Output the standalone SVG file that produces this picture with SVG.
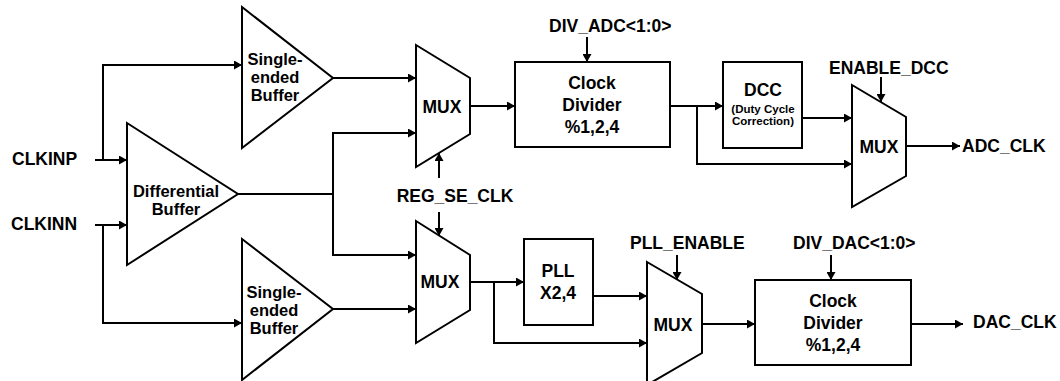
<svg xmlns="http://www.w3.org/2000/svg" width="1060" height="381" viewBox="0 0 1060 381">
<style>
.s{fill:#fff;stroke:#000;stroke-width:2;stroke-linejoin:miter}
.c{fill:none;stroke:#000;stroke-width:2}
.t{font-family:"Liberation Sans",Arial,sans-serif;font-weight:bold;fill:#000}
.l{font-size:17.5px}
.b{font-size:16.5px}
.m{text-anchor:middle}
</style>
<defs>
<marker id="ah" markerUnits="userSpaceOnUse" markerWidth="9" markerHeight="9" refX="8" refY="4.5" orient="auto">
<path d="M0,0 L8,4.5 L0,9 z" fill="#000"/>
</marker>
</defs>
<rect width="1060" height="381" fill="#fff"/>
<g id="connectors" class="c" marker-end="url(#ah)">
<path d="M95,160 H127"/>
<path d="M103,160 V65 H242"/>
<path d="M95,225 H127"/>
<path d="M103,225 V323 H242"/>
<path d="M333,78 H416"/>
<path d="M238,194 H333" marker-end="none"/>
<path d="M333,194 V133 H416"/>
<path d="M333,194 V255 H416"/>
<path d="M333,309 H416"/>
<path d="M439,178 V153"/>
<path d="M439,212 V236"/>
<path d="M470,106 H515"/>
<path d="M587,37 V62"/>
<path d="M670,106 H723"/>
<path d="M697,106 V164 H852"/>
<path d="M802,118 H852"/>
<path d="M881,77 V102"/>
<path d="M906,146 H960"/>
<path d="M470,282 H524"/>
<path d="M494,282 V343 H647"/>
<path d="M593,296 H647"/>
<path d="M677,255 V280"/>
<path d="M702,324 H755"/>
<path d="M831,255 V280"/>
<path d="M911,324 H963"/>
</g>
<g id="clkinp"><text class="t l" x="12" y="165">CLKINP</text></g>
<g id="clkinn"><text class="t l" x="11" y="230">CLKINN</text></g>
<g id="se_buf_top">
<polygon class="s" points="242,7 333,78 242,148"/>
<text class="t b m" x="275" y="65">Single-</text>
<text class="t b m" x="275" y="83">ended</text>
<text class="t b m" x="275" y="101">Buffer</text>
</g>
<g id="diff_buf">
<polygon class="s" points="127,123 238,194 127,265"/>
<text class="t b m" x="176" y="197">Differential</text>
<text class="t b m" x="176" y="215">Buffer</text>
</g>
<g id="se_buf_bot">
<polygon class="s" points="242,239 333,309 242,380"/>
<text class="t b m" x="274" y="298">Single-</text>
<text class="t b m" x="274" y="316">ended</text>
<text class="t b m" x="274" y="334">Buffer</text>
</g>
<g id="mux_top">
<polygon class="s" points="416,45 470,78 470,134 416,167"/>
<text class="t l m" x="442" y="113">MUX</text>
</g>
<g id="reg_se_clk"><text class="t l m" x="455" y="202">REG_SE_CLK</text></g>
<g id="mux_bot">
<polygon class="s" points="416,221 470,255 470,310 416,343"/>
<text class="t l m" x="440" y="288">MUX</text>
</g>
<g id="clkdiv_adc">
<rect class="s" x="515" y="62" width="155" height="85"/>
<text class="t l m" x="592" y="89">Clock</text>
<text class="t l m" x="592" y="111">Divider</text>
<text class="t l m" x="592" y="133">%1,2,4</text>
</g>
<g id="div_adc"><text class="t l" x="549" y="32">DIV_ADC&lt;1:0&gt;</text></g>
<g id="dcc">
<rect class="s" x="723" y="62" width="79" height="86"/>
<text class="t m" style="font-size:17.5px" x="763" y="96">DCC</text>
<text class="t m" style="font-size:11.5px" x="763" y="113">(Duty Cycle</text>
<text class="t m" style="font-size:11.5px" x="763" y="125">Correction)</text>
</g>
<g id="enable_dcc"><text class="t l" x="829" y="74">ENABLE_DCC</text></g>
<g id="mux_adc">
<polygon class="s" points="852,85 906,117 906,176 852,207"/>
<text class="t l m" x="879" y="153">MUX</text>
</g>
<g id="adc_clk"><text class="t l" x="962" y="152">ADC_CLK</text></g>
<g id="pll">
<rect class="s" x="524" y="239" width="69" height="86"/>
<text class="t l m" x="558" y="277">PLL</text>
<text class="t l m" x="558" y="299">X2,4</text>
</g>
<g id="pll_enable"><text class="t l" x="630" y="249">PLL_ENABLE</text></g>
<g id="mux_dac">
<polygon class="s" points="647,262 702,294 702,353 647,385"/>
<text class="t l m" x="673" y="331">MUX</text>
</g>
<g id="div_dac"><text class="t l" x="793" y="249">DIV_DAC&lt;1:0&gt;</text></g>
<g id="clkdiv_dac">
<rect class="s" x="755" y="280" width="156" height="85"/>
<text class="t l m" x="833" y="307">Clock</text>
<text class="t l m" x="833" y="329">Divider</text>
<text class="t l m" x="833" y="351">%1,2,4</text>
</g>
<g id="dac_clk"><text class="t l" x="973" y="328">DAC_CLK</text></g>
</svg>
